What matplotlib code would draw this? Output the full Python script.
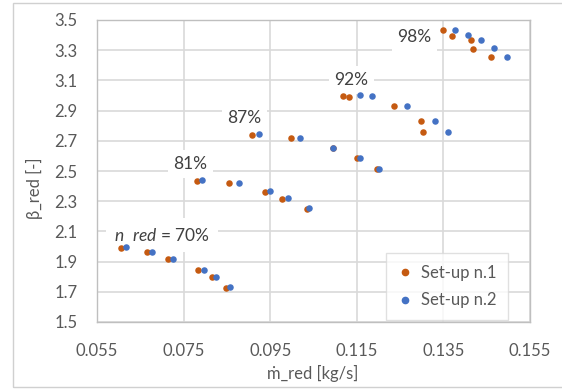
import matplotlib
matplotlib.use("Agg")
import matplotlib.pyplot as plt
from matplotlib.patches import Rectangle
from matplotlib.lines import Line2D

plt.rcParams['font.family'] = ['Lato', 'DejaVu Sans']
plt.rcParams['mathtext.fontset'] = 'custom'
plt.rcParams['mathtext.it'] = 'Lato:italic'
plt.rcParams['mathtext.rm'] = 'Lato'

# Set-up n.1 (orange)
m1 = [0.0605, 0.0665, 0.0714, 0.0783, 0.0815, 0.0848,
      0.0780, 0.0854, 0.0939, 0.0977, 0.1034,
      0.0907, 0.0997, 0.1095, 0.1150, 0.1197,
      0.1119, 0.1131, 0.1235, 0.1298, 0.1303,
      0.1348, 0.1371, 0.1414, 0.1418, 0.1461]
b1 = [1.992, 1.964, 1.919, 1.846, 1.796, 1.727,
      2.437, 2.420, 2.363, 2.313, 2.250,
      2.738, 2.721, 2.650, 2.584, 2.515,
      2.997, 2.990, 2.932, 2.831, 2.756,
      3.434, 3.394, 3.366, 3.310, 3.253]
# Set-up n.2 (blue)
m2 = [0.0618, 0.0677, 0.0726, 0.0796, 0.0824, 0.0857,
      0.0793, 0.0877, 0.0950, 0.0990, 0.1039,
      0.0925, 0.1019, 0.1096, 0.1158, 0.1201,
      0.1158, 0.1186, 0.1265, 0.1330, 0.1361,
      0.1377, 0.1407, 0.1436, 0.1468, 0.1497]
b2 = [1.997, 1.964, 1.919, 1.846, 1.800, 1.734,
      2.442, 2.420, 2.370, 2.319, 2.257,
      2.743, 2.721, 2.652, 2.584, 2.515,
      3.001, 2.997, 2.932, 2.831, 2.760,
      3.434, 3.401, 3.368, 3.317, 3.253]

labels = ["$n$  $red$ = 70%", "81%", "87%", "92%", "98%"]
label_x = [0.0700, 0.0766, 0.0891, 0.1137, 0.1283]
label_y = [2.074, 2.546, 2.851, 3.103, 3.387]

xticks = [0.055, 0.075, 0.095, 0.115, 0.135, 0.155]
yticks = [1.5, 1.7, 1.9, 2.1, 2.3, 2.5, 2.7, 2.9, 3.1, 3.3, 3.5]

c1 = '#C55A11'
c2 = '#4472C4'
grid_c = '#D9D9D9'
txt_c = '#595959'

fig = plt.figure(figsize=(5.62, 3.90), dpi=100)
W, H = 562, 390
ax = fig.add_axes([97 / W, 1 - 322 / H, (530 - 97) / W, (322 - 20) / H])

ax.scatter(m1, b1, s=22, color=c1, zorder=3, linewidths=0, label='Set-up n.1')
ax.scatter(m2, b2, s=22, color=c2, zorder=4, linewidths=0, label='Set-up n.2')

ax.set_xlim(0.055, 0.155)
ax.set_ylim(1.5, 3.5)
ax.set_xticks(xticks)
ax.set_xticklabels([f"{t:.3f}" for t in xticks])
ax.set_yticks(yticks)
ax.set_yticklabels([f"{t:.1f}" for t in yticks])
ax.grid(True, color=grid_c, linewidth=1.2, zorder=0)
ax.set_axisbelow(True)
for s in ax.spines.values():
    s.set_color('#BFBFBF')
    s.set_linewidth(1.0)
ax.tick_params(axis='both', length=0, labelsize=12, colors=txt_c)
ax.tick_params(axis='y', pad=14)
ax.tick_params(axis='x', pad=15)

for i, lab in enumerate(labels):
    ax.text(label_x[i], label_y[i], lab, fontsize=12.5, color='#404040',
            ha='center', va='center', zorder=2,
            bbox=dict(facecolor='white', edgecolor='none', pad=4 if i else 6))

ax.set_xlabel('ṁ_red [kg/s]', fontsize=12, color=txt_c)
ax.set_ylabel('β_red [-]', fontsize=12, color=txt_c)
ax.xaxis.set_label_coords((313 - 97) / (530 - 97), -(365 - 322) / (322 - 20))
ax.yaxis.set_label_coords(-(97 - 43) / (530 - 97), (322 - 188) / (322 - 20))

handles = [Line2D([], [], marker='o', linestyle='none', color=c1, markersize=4.5),
           Line2D([], [], marker='o', linestyle='none', color=c2, markersize=4.5)]
leg = fig.legend(handles, ['Set-up n.1', 'Set-up n.2'], loc='upper left',
                 bbox_to_anchor=(386 / W, 1 - 253 / H), borderaxespad=0,
                 fontsize=12, frameon=True, fancybox=False, handlelength=0.9,
                 handletextpad=0.5, labelspacing=0.7, borderpad=0.7)
leg.get_frame().set_edgecolor(grid_c)
leg.get_frame().set_linewidth(1.0)
for t in leg.get_texts():
    t.set_color(txt_c)

# outer chart frame
fig.patches.append(Rectangle((13 / W, 1 - 387 / H), 1.0, (387 - 3) / H,
                             transform=fig.transFigure, fill=False,
                             edgecolor='#D0D0D0', linewidth=1.0))

fig.savefig('out.png', dpi=100)
